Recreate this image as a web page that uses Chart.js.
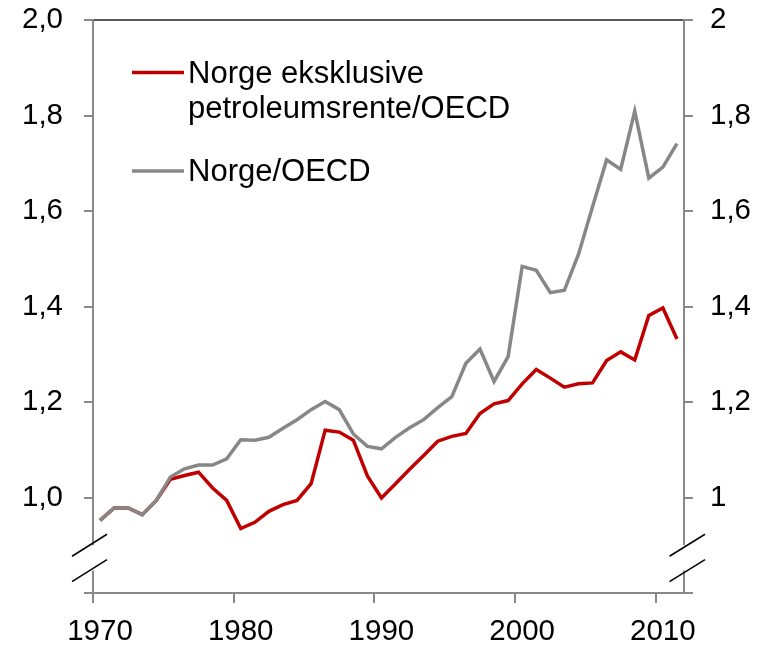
<!DOCTYPE html>
<html>
<head>
<meta charset="utf-8">
<script src="https://cdn.jsdelivr.net/npm/chart.js@4/dist/chart.umd.min.js"></script>
<style>
  html, body { margin: 0; padding: 0; background: #fff; }
  #wrap { width: 773px; height: 645px; }
</style>
</head>
<body>
<div id="wrap"><canvas id="myChart" width="773" height="645"></canvas></div>
<script>
// Data (annual, 1970-2011)
const years = [1970, 1971, 1972, 1973, 1974, 1975, 1976, 1977, 1978, 1979,
               1980, 1981, 1982, 1983, 1984, 1985, 1986, 1987, 1988, 1989,
               1990, 1991, 1992, 1993, 1994, 1995, 1996, 1997, 1998, 1999,
               2000, 2001, 2002, 2003, 2004, 2005, 2006, 2007, 2008, 2009,
               2010, 2011];
const norgeEksPetro = [0.952, 0.978, 0.978, 0.964, 0.994, 1.038, 1.046, 1.053, 1.020, 0.994,
                       0.935, 0.948, 0.971, 0.985, 0.994, 1.029, 1.141, 1.137, 1.120, 1.045,
                       0.999, 1.029, 1.059, 1.088, 1.118, 1.128, 1.134, 1.176, 1.196, 1.203,
                       1.238, 1.268, 1.250, 1.231, 1.238, 1.240, 1.287, 1.305, 1.288, 1.381,
                       1.397, 1.332];
const norgeOECD = [0.952, 0.978, 0.978, 0.964, 0.994, 1.043, 1.060, 1.068, 1.068, 1.081,
                   1.121, 1.120, 1.126, 1.145, 1.163, 1.184, 1.201, 1.184, 1.133, 1.107,
                   1.102, 1.126, 1.146, 1.163, 1.188, 1.211, 1.281, 1.311, 1.243, 1.295,
                   1.484, 1.476, 1.429, 1.434, 1.509, 1.609, 1.707, 1.687, 1.809, 1.669,
                   1.692, 1.741];
const seriesNames = ['Norge eksklusive\npetroleumsrente/OECD', 'Norge/OECD'];
const xTickYears = [1970, 1980, 1990, 2000, 2010];
const yMin = 0.8, yMax = 2.0, yStep = 0.2;

const axisGrey = '#898989';
const fontFamily = '"Liberation Sans", Arial, sans-serif';

// each year is a category slot, point drawn in the middle of it
const toPoints = vals => vals.map((v, i) => ({ x: years[i] + 0.5, y: v }));

const commaLeft = v => Math.abs(v - yMin) < 1e-6 ? '' : v.toFixed(1).replace('.', ',');
const commaRight = v => {
    if (Math.abs(v - yMin) < 1e-6) return '';
    const r = Math.round(v * 10) / 10;
    return Number.isInteger(r) ? String(r) : r.toFixed(1).replace('.', ',');
};

// fixed axis widths, no extra label padding above the plot
const fitY = w => s => { s.width = w; s.paddingTop = 0; s.paddingBottom = 0; };

// Axis break marks on both value axes
const axisBreak = {
    id: 'axisBreak',
    afterDraw(chart) {
        const c = chart.ctx;
        const y = chart.scales.y;
        const c1 = y.getPixelForValue(0.9);
        const c2 = y.getPixelForValue(0.847);
        const sides = [
            { x: chart.chartArea.left, a: -21, b: 14 },
            { x: chart.chartArea.right, a: -14.5, b: 21 }
        ];
        c.save();
        sides.forEach(s => {
            c.fillStyle = '#fff';
            c.fillRect(s.x - 3, c1, 6, c2 - c1);
            c.strokeStyle = '#000';
            c.lineWidth = 1.5;
            [c1, c2].forEach(cy => {
                c.beginPath();
                c.moveTo(s.x + s.a, cy + 11);
                c.lineTo(s.x + s.b, cy - 11);
                c.stroke();
            });
        });
        c.restore();
    }
};

// Legend drawn inside the plot, top left
const innerLegend = {
    id: 'innerLegend',
    afterDatasetsDraw(chart) {
        const c = chart.ctx;
        const rows = [{ lineY: 72.5, baseY: 83 }, { lineY: 171, baseY: 181 }];
        c.save();
        c.font = '31px ' + fontFamily;
        c.fillStyle = '#000';
        c.textBaseline = 'alphabetic';
        chart.data.datasets.forEach((ds, i) => {
            const r = rows[i];
            c.strokeStyle = ds.borderColor;
            c.lineWidth = 3.5;
            c.beginPath();
            c.moveTo(132, r.lineY);
            c.lineTo(184, r.lineY);
            c.stroke();
            ds.label.split('\n').forEach((t, k) => {
                c.fillText(t, 188, r.baseY + k * 34.5);
            });
        });
        c.restore();
    }
};

const ctx = document.getElementById('myChart').getContext('2d');
const myChart = new Chart(ctx, {
    type: 'line',
    data: {
        datasets: [
            {
                label: seriesNames[0],
                data: toPoints(norgeEksPetro),
                borderColor: '#C00000',
                borderWidth: 3.5,
                pointRadius: 0,
                tension: 0,
                order: 2,
                yAxisID: 'y'
            },
            {
                label: seriesNames[1],
                data: toPoints(norgeOECD),
                borderColor: '#878787',
                borderWidth: 3.5,
                pointRadius: 0,
                tension: 0,
                order: 1,
                yAxisID: 'y'
            }
        ]
    },
    options: {
        responsive: false,
        animation: false,
        layout: { padding: { top: 20, left: 0, right: 0, bottom: 0 } },
        plugins: {
            legend: { display: false },
            tooltip: { enabled: false }
        },
        scales: {
            x: {
                type: 'linear',
                min: years[0],
                max: years[years.length - 1] + 1,
                afterBuildTicks: s => { s.ticks = xTickYears.map(v => ({ value: v })); },
                afterFit: s => { s.height = 52; },
                border: { color: axisGrey, width: 2 },
                grid: { drawOnChartArea: false, tickLength: 10, tickColor: axisGrey, lineWidth: 2 },
                ticks: {
                    autoSkip: false,
                    maxRotation: 0,
                    padding: 11,
                    labelOffset: 7,
                    color: '#000',
                    font: { family: fontFamily, size: 29.5 },
                    callback: v => String(v)
                }
            },
            y: {
                position: 'left',
                min: yMin,
                max: yMax,
                afterFit: fitY(93),
                border: { color: axisGrey, width: 2 },
                grid: {
                    drawOnChartArea: true,
                    tickLength: 9,
                    lineWidth: 2,
                    color: c => Math.abs(c.tick.value - yMax) < 1e-6 ? '#595959' : 'rgba(0,0,0,0)',
                    tickColor: axisGrey
                },
                ticks: {
                    stepSize: yStep,
                    padding: 21,
                    color: '#000',
                    font: { family: fontFamily, size: 29.5 },
                    callback: commaLeft
                }
            },
            y2: {
                position: 'right',
                min: yMin,
                max: yMax,
                afterFit: fitY(89),
                border: { color: axisGrey, width: 2 },
                grid: { drawOnChartArea: false, tickLength: 9, lineWidth: 2, tickColor: axisGrey },
                ticks: {
                    stepSize: yStep,
                    padding: 17,
                    color: '#000',
                    font: { family: fontFamily, size: 29.5 },
                    callback: commaRight
                }
            }
        }
    },
    plugins: [axisBreak, innerLegend]
});
</script>
</body>
</html>
